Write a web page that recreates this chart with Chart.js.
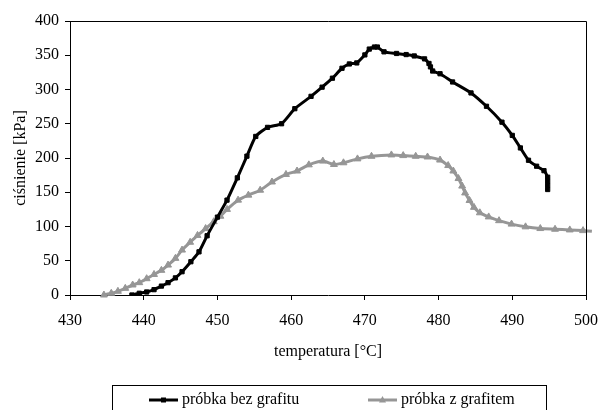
<!DOCTYPE html>
<html lang="pl">
  <head>
    <meta charset="utf-8">
    <title>ciśnienie - temperatura</title>
    <script src="https://cdn.jsdelivr.net/npm/chart.js"></script>
    <style>
      body {
        margin: 0;
        background: #fff;
      }
      #wrap {
        width: 598px;
        height: 410px;
      }
    </style>
  </head>
  <body>
    <div id="wrap">
      <canvas id="myChart" width="598" height="410"></canvas>
    </div>

    <script>
      // próbka bez grafitu
      const tempBez = [438.4, 439.4, 440.4, 441.4, 442.4, 443.3, 444.3, 445.2, 446.4, 447.5, 448.6, 450.0, 451.3, 452.7, 454.0, 455.2, 456.8, 458.7, 460.5, 462.7, 464.2, 465.6, 466.9, 467.9, 468.9, 470.0, 470.6, 471.3, 471.7, 472.6, 474.3, 475.6, 476.7, 478.1, 478.7, 478.9, 479.2, 480.2, 481.9, 484.4, 486.5, 488.6, 490.0, 491.1, 492.2, 493.3, 494.3, 494.8, 494.8, 494.8, 494.8];
      const cisnBez = [0, 2.5, 4.4, 7.8, 13, 18, 25, 34, 48.6, 63, 86.5, 113.7, 138.5, 171, 202.7, 231.5, 244.7, 250, 272, 290, 303.4, 316.5, 331, 337.3, 338.8, 350.5, 359, 362, 362, 355, 352.6, 351, 349, 344.7, 338, 333, 327, 323, 311, 295, 275.5, 252.3, 233, 214.7, 196.7, 188, 181.5, 172, 166, 160, 154];

      // próbka z grafitem
      const tempZ = [434.6, 435.6, 436.5, 437.5, 438.5, 439.4, 440.4, 441.4, 442.4, 443.3, 444.3, 445.2, 446.3, 447.3, 448.4, 449.5, 450.4, 451.3, 452.8, 454.2, 455.8, 457.4, 459.3, 460.8, 462.4, 464.3, 465.8, 467.1, 469.0, 470.9, 473.6, 475.2, 476.9, 478.5, 480.2, 481.3, 482.0, 482.7, 483.2, 483.6, 484.2, 484.8, 485.6, 486.8, 488.2, 489.9, 491.8, 493.8, 495.8, 497.8, 499.6, 500.8];
      const cisnZ = [0, 2.5, 5.4, 9.7, 14.6, 18, 23.8, 30, 36, 43.7, 53.5, 65.6, 77, 87, 97, 107, 115, 125, 138.5, 145.8, 153, 165, 176, 181, 190, 195.5, 190.5, 193, 198.7, 202.5, 204.5, 203.5, 202.5, 201.5, 197, 189, 181, 170, 159, 149, 138, 128, 120, 114, 108.5, 103.5, 99.5, 97, 96, 95, 94, 93];

      const xTicks = [430, 440, 450, 460, 470, 480, 490, 500];
      const yTicks = [0, 50, 100, 150, 200, 250, 300, 350, 400];

      const seriesNames = ['próbka bez grafitu', 'próbka z grafitem'];
      const black = '#000000';
      const grey = '#969696';
      const fontName = "'Liberation Serif', 'Times New Roman', serif";

      function toPoints(xs, ys) {
        return xs.map((x, i) => ({ x: x, y: ys[i] }));
      }

      // ramka wokół obszaru wykresu + legenda w ramce
      const framePlugin = {
        id: 'frame',
        afterDraw(chart) {
          const c = chart.ctx;
          const a = chart.chartArea;
          c.save();
          c.strokeStyle = '#000';
          c.lineWidth = 1;
          c.beginPath();
          c.moveTo(a.left, a.top + 0.5);
          c.lineTo(a.right + 0.5, a.top + 0.5);
          c.lineTo(a.right + 0.5, a.bottom);
          c.stroke();

          // legenda
          c.strokeRect(112.5, 385.5, 434, 40);
          c.font = '16px ' + fontName;
          c.textBaseline = 'middle';
          const items = [
            { x: 149, ds: chart.data.datasets[0] },
            { x: 368, ds: chart.data.datasets[1] }
          ];
          items.forEach(it => {
            const y = 400;
            c.strokeStyle = it.ds.borderColor;
            c.lineWidth = 3;
            c.beginPath();
            c.moveTo(it.x, y);
            c.lineTo(it.x + 29, y);
            c.stroke();
            c.fillStyle = it.ds.pointBackgroundColor;
            c.beginPath();
            if (it.ds.pointStyle === 'rect') {
              c.rect(it.x + 12, y - 2.5, 5, 5);
            } else {
              c.moveTo(it.x + 14.5, y - 4);
              c.lineTo(it.x + 18, y + 2.5);
              c.lineTo(it.x + 11, y + 2.5);
              c.closePath();
            }
            c.fill();
            c.fillStyle = '#000';
            c.textAlign = 'left';
            c.fillText(it.ds.label, it.x + 33, y);
          });
          c.restore();
        }
      };

      const ctx = document.getElementById('myChart').getContext('2d');
      const myChart = new Chart(ctx, {
        type: 'line',
        data: {
          datasets: [
            {
              label: seriesNames[0],
              data: toPoints(tempBez, cisnBez),
              borderColor: black,
              backgroundColor: black,
              pointBackgroundColor: black,
              pointBorderColor: black,
              borderWidth: 3,
              pointStyle: 'rect',
              pointRadius: 3,
              pointBorderWidth: 1,
              tension: 0.2,
              fill: false
            },
            {
              label: seriesNames[1],
              data: toPoints(tempZ, cisnZ),
              borderColor: grey,
              backgroundColor: grey,
              pointBackgroundColor: grey,
              pointBorderColor: grey,
              borderWidth: 3,
              pointStyle: 'triangle',
              pointRadius: (c) => (c.parsed && c.parsed.x > 500 ? 0 : 4),
              pointBorderWidth: 1,
              tension: 0.2,
              fill: false,
              clip: false
            }
          ]
        },
        options: {
          responsive: false,
          animation: false,
          devicePixelRatio: 1,
          layout: {
            padding: { left: 0, right: 0, top: 21, bottom: 49 }
          },
          plugins: {
            legend: { display: false },
            tooltip: { enabled: false }
          },
          scales: {
            x: {
              type: 'linear',
              min: 430,
              max: 500,
              afterFit: (s) => { s.height = 66; s.paddingRight = 12; s.paddingLeft = 0; },
              afterBuildTicks: (s) => { s.ticks = xTicks.map(v => ({ value: v })); },
              grid: { drawOnChartArea: false, drawTicks: true, tickLength: 5, color: '#000' },
              border: { color: '#000', width: 1 },
              ticks: {
                color: '#000',
                padding: 11,
                maxRotation: 0,
                font: { family: fontName, size: 16 }
              },
              title: {
                display: true,
                text: 'temperatura [°C]',
                color: '#000',
                padding: 0,
                font: { family: fontName, size: 16 }
              }
            },
            y: {
              min: 0,
              max: 400,
              afterFit: (s) => { s.width = 70; },
              afterBuildTicks: (s) => { s.ticks = yTicks.map(v => ({ value: v })); },
              grid: { drawOnChartArea: false, drawTicks: true, tickLength: 5, color: '#000' },
              border: { color: '#000', width: 1 },
              ticks: {
                color: '#000',
                padding: 6,
                font: { family: fontName, size: 16 }
              },
              title: {
                display: true,
                text: 'ciśnienie [kPa]',
                color: '#000',
                padding: { top: 11, bottom: 0 },
                font: { family: fontName, size: 16 }
              }
            }
          }
        },
        plugins: [framePlugin]
      });
    </script>
  </body>
</html>
